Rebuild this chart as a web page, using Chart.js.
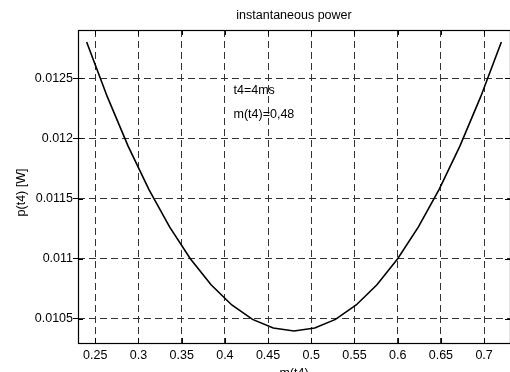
<!DOCTYPE html>
<html>
<head>
<meta charset="utf-8">
<script src="https://cdn.jsdelivr.net/npm/chart.js@4/dist/chart.umd.min.js"></script>
<style>
  html, body { margin: 0; padding: 0; background: #fff; overflow: hidden; }
  #wrap { position: absolute; left: 0; top: 0; }
</style>
</head>
<body>
<div id="wrap"><canvas id="myChart" width="512" height="381"></canvas></div>
<script>
// m(t4) samples and the power
const mValues = [0.24, 0.264, 0.288, 0.312, 0.336, 0.36, 0.384, 0.408, 0.432, 0.456, 0.48,
  0.504, 0.528, 0.552, 0.576, 0.6, 0.624, 0.648, 0.672, 0.696, 0.72];
const pValues = [0.01280, 0.012344, 0.011936, 0.011576, 0.011264, 0.011000, 0.010784, 0.010616, 0.010496, 0.010424, 0.010400,
  0.010424, 0.010496, 0.010616, 0.010784, 0.011000, 0.011264, 0.011576, 0.011936, 0.012344, 0.01280];
const xTicks = [0.25, 0.3, 0.35, 0.4, 0.45, 0.5, 0.55, 0.6, 0.65, 0.7];
const yTicks = [0.0105, 0.011, 0.0115, 0.012, 0.0125];
const notes = [
  { x: 0.41, y: 0.0124, text: "t4=4ms" },
  { x: 0.41, y: 0.0122, text: "m(t4)=0,48" },
];
const yTitle = "p(t4) [W]";

const fontName = "'Liberation Sans', Arial, Helvetica, sans-serif";
const points = mValues.map((m, i) => ({ x: m, y: pValues[i] }));

// box round the axes, short ticks inside, the y label and the two text notes
const boxPlugin = {
  id: "boxPlugin",
  afterDatasetsDraw(chart) {
    const ctx = chart.ctx;
    const a = chart.chartArea;
    const xs = chart.scales.x;
    const ys = chart.scales.y;
    ctx.save();
    ctx.strokeStyle = "#000";
    ctx.lineWidth = 1;
    ctx.beginPath();
    xTicks.forEach((v) => {
      const px = Math.round(xs.getPixelForValue(v)) + 0.5;
      ctx.moveTo(px, a.bottom);
      ctx.lineTo(px, a.bottom - 5);
      ctx.moveTo(px, a.top);
      ctx.lineTo(px, a.top + 5);
    });
    yTicks.forEach((v) => {
      const py = Math.round(ys.getPixelForValue(v)) + 0.5;
      ctx.moveTo(a.left, py);
      ctx.lineTo(a.left + 5, py);
      ctx.moveTo(a.right, py);
      ctx.lineTo(a.right - 5, py);
    });
    ctx.stroke();
    ctx.lineWidth = 1.2;
    ctx.strokeRect(Math.round(a.left) + 0.5, Math.round(a.top) + 0.5,
      Math.round(a.right - a.left), Math.round(a.bottom - a.top));

    ctx.fillStyle = "#000";
    ctx.font = "12.5px " + fontName;
    ctx.textAlign = "left";
    ctx.textBaseline = "middle";
    notes.forEach((n) => {
      ctx.fillText(n.text, xs.getPixelForValue(n.x), ys.getPixelForValue(n.y));
    });

    // y label sits a bit below the middle of the axis in the original
    ctx.translate(22, (a.top + a.bottom) / 2 + 6);
    ctx.rotate(-Math.PI / 2);
    ctx.textAlign = "center";
    ctx.fillText(yTitle, 0, 0);
    ctx.restore();
  },
};

new Chart("myChart", {
  type: "line",
  data: {
    datasets: [
      {
        data: points,
        borderColor: "#000",
        borderWidth: 1.6,
        pointRadius: 0,
        tension: 0,
        fill: false,
      },
    ],
  },
  options: {
    responsive: false,
    animation: false,
    devicePixelRatio: 1,
    layout: { padding: { left: 0, right: 2, top: 0, bottom: 0 } },
    plugins: {
      legend: { display: false },
      tooltip: { enabled: false },
      title: {
        display: true,
        text: "instantaneous power",
        fullSize: false,
        color: "#000",
        font: { family: fontName, size: 12.5, weight: "normal" },
        padding: { top: 8.5, bottom: 6.5 },
      },
    },
    scales: {
      x: {
        type: "linear",
        min: 0.23,
        max: 0.73,
        afterBuildTicks: (scale) => {
          scale.ticks = xTicks.map((v) => ({ value: v }));
        },
        afterFit: (scale) => {
          scale.height = 38;
        },
        border: { display: false, dash: [7, 4] },
        grid: {
          color: "#333",
          lineWidth: 1,
          drawTicks: false,
        },
        ticks: {
          color: "#000",
          padding: 5,
          maxRotation: 0,
          font: { family: fontName, size: 12.5 },
          callback: (v) => String(v),
        },
        title: {
          display: true,
          text: "m(t4)",
          color: "#000",
          font: { family: fontName, size: 12.5 },
          padding: { top: 0, bottom: 0 },
        },
      },
      y: {
        type: "linear",
        min: 0.0103,
        max: 0.0129,
        afterBuildTicks: (scale) => {
          scale.ticks = yTicks.map((v) => ({ value: v }));
        },
        afterFit: (scale) => {
          scale.width = 78;
        },
        border: { display: false, dash: [7, 4] },
        grid: {
          color: "#333",
          lineWidth: 1,
          drawTicks: true,
          tickLength: 5,
          tickColor: "#000",
          tickBorderDash: [],
        },
        ticks: {
          color: "#000",
          padding: 0,
          font: { family: fontName, size: 12.5 },
          callback: (v) => String(v),
        },
      },
    },
  },
  plugins: [boxPlugin],
});
</script>
</body>
</html>
